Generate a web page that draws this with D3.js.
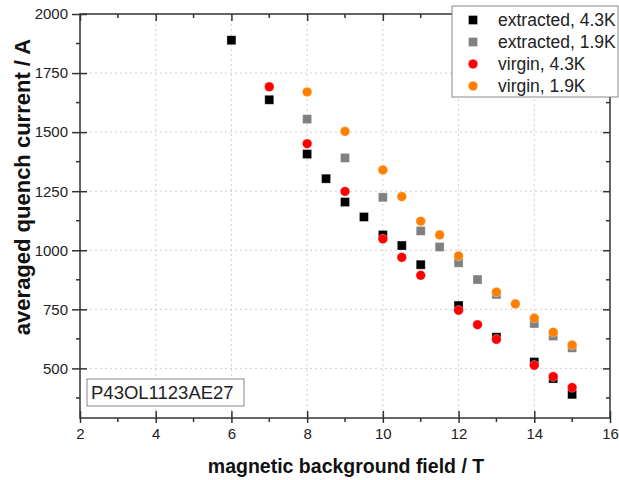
<!DOCTYPE html>
<html>
<head>
<meta charset="utf-8">
<script src="https://cdn.jsdelivr.net/npm/d3@7"></script>
<style>
  html, body { margin: 0; padding: 0; background: #fff; }
  svg { display: block; font-family: "Liberation Sans", Arial, sans-serif; }
</style>
</head>
<body>
<svg id="chart" width="619" height="480"></svg>
<script>
// ---- data ----
const extracted43K_field = [6, 7, 8, 8.5, 9, 9.5, 10, 10.5, 11, 12, 13, 14, 14.5, 15];
const extracted43K_current = [1889, 1637, 1407, 1303, 1204, 1141, 1065, 1020, 939, 766, 632, 527, 457, 390];

const extracted19K_field = [8, 9, 10, 11, 11.5, 12, 12.5, 13, 14, 14.5, 15];
const extracted19K_current = [1555, 1391, 1224, 1082, 1014, 947, 876, 813, 690, 637, 587];

const virgin43K_field = [7, 8, 9, 10, 10.5, 11, 12, 12.5, 13, 14, 14.5, 15];
const virgin43K_current = [1692, 1451, 1249, 1048, 970, 894, 746, 685, 623, 513, 465, 419];

const virgin19K_field = [8, 9, 10, 10.5, 11, 11.5, 12, 13, 13.5, 14, 14.5, 15];
const virgin19K_current = [1670, 1503, 1340, 1227, 1123, 1065, 976, 823, 773, 713, 653, 599];

const seriesNames = ["extracted, 4.3K", "extracted, 1.9K", "virgin, 4.3K", "virgin, 1.9K"];
const xTicks = [2, 4, 6, 8, 10, 12, 14, 16];
const yTicks = [500, 750, 1000, 1250, 1500, 1750, 2000];
const xDomain = [2, 16];
const yDomain = [290, 2000];
const sampleLabel = "P43OL1123AE27";
const xTitle = "magnetic background field / T";
const yTitle = "averaged quench current / A";

// ---- layout ----
const PL = 80, PR = 610, PT = 14, PB = 418;
const svg = d3.select("#chart");
const xs = d3.scaleLinear().domain(xDomain).range([PL, PR]);
const ys = d3.scaleLinear().domain(yDomain).range([PB, PT]);

const series = [
  { name: seriesNames[0], fx: extracted43K_field, fy: extracted43K_current, shape: "square", color: "#000000" },
  { name: seriesNames[1], fx: extracted19K_field, fy: extracted19K_current, shape: "square", color: "#808080" },
  { name: seriesNames[2], fx: virgin43K_field, fy: virgin43K_current, shape: "circle", color: "#ff0000" },
  { name: seriesNames[3], fx: virgin19K_field, fy: virgin19K_current, shape: "circle", color: "#ff8000" }
];

// grid
const grid = svg.append("g").attr("stroke", "#cfcfcf").attr("stroke-width", 1).attr("stroke-dasharray", "2,3");
grid.selectAll("line.gx").data(xTicks.filter(d => d > xDomain[0] && d < xDomain[1])).join("line").attr("class", "gx")
  .attr("x1", d => xs(d)).attr("x2", d => xs(d)).attr("y1", PT).attr("y2", PB);
grid.selectAll("line.gy").data(yTicks.filter(d => d < yDomain[1])).join("line").attr("class", "gy")
  .attr("x1", PL).attr("x2", PR).attr("y1", d => ys(d)).attr("y2", d => ys(d));

// axes
const axisColor = "#333";
const minorX = d3.range(3, 16, 2);
const minorY = d3.range(375, 2000, 250);

const axB = d3.axisBottom(xs).tickValues(xTicks).tickSize(5).tickSizeOuter(0).tickPadding(5).tickFormat(d3.format("d"));
const gB = svg.append("g").attr("transform", `translate(0,${PB})`).call(axB);
const axL = d3.axisLeft(ys).tickValues(yTicks).tickSizeOuter(0).tickSize(8).tickPadding(4).tickFormat(d3.format("d"));
const gL = svg.append("g").attr("transform", `translate(${PL},0)`).call(axL);
const axT = d3.axisTop(xs).tickValues(xTicks).tickSizeOuter(0).tickSize(-7).tickFormat("");
const gT = svg.append("g").attr("transform", `translate(0,${PT})`).call(axT);
const axR = d3.axisRight(ys).tickValues(yTicks).tickSizeOuter(0).tickSize(-7).tickFormat("");
const gR = svg.append("g").attr("transform", `translate(${PR},0)`).call(axR);

[gB, gL, gT, gR].forEach(g => {
  g.select(".domain").remove();
  g.selectAll(".tick line").attr("stroke", axisColor).attr("stroke-width", 1.5);
  g.selectAll(".tick text").attr("fill", "#222").style("font-size", "15px").style("font-family", "'Liberation Sans', Arial, sans-serif");
});
gB.selectAll(".tick").append("line").attr("y1", 0).attr("y2", -7).attr("stroke", axisColor).attr("stroke-width", 1.5);
gL.selectAll(".tick").append("line").attr("x1", 0).attr("x2", 7).attr("stroke", axisColor).attr("stroke-width", 1.5);

// minor ticks
svg.append("g").selectAll("line").data(minorX).join("line")
  .attr("x1", d => xs(d)).attr("x2", d => xs(d)).attr("y1", PB).attr("y2", PB + 4)
  .attr("stroke", axisColor).attr("stroke-width", 1.5);
svg.append("g").selectAll("line").data(minorY).join("line")
  .attr("x1", PL - 4).attr("x2", PL).attr("y1", d => ys(d)).attr("y2", d => ys(d))
  .attr("stroke", axisColor).attr("stroke-width", 1.5);
svg.append("g").selectAll("line").data(minorX).join("line")
  .attr("x1", d => xs(d)).attr("x2", d => xs(d)).attr("y1", PT).attr("y2", PT + 4)
  .attr("stroke", axisColor).attr("stroke-width", 1.5);
svg.append("g").selectAll("line").data(minorY).join("line")
  .attr("x1", PR - 4).attr("x2", PR).attr("y1", d => ys(d)).attr("y2", d => ys(d))
  .attr("stroke", axisColor).attr("stroke-width", 1.5);

// frame
svg.append("rect").attr("x", PL).attr("y", PT).attr("width", PR - PL).attr("height", PB - PT)
  .attr("fill", "none").attr("stroke", axisColor).attr("stroke-width", 1.5);

// markers
function drawMarker(g, shape, color, cx, cy) {
  if (shape === "square") {
    g.append("rect").attr("x", cx - 4.5).attr("y", cy - 4.5).attr("width", 9).attr("height", 9)
      .attr("fill", color).attr("stroke", "#fff").attr("stroke-opacity", 0.4).attr("stroke-width", 0.8);
  } else {
    g.append("circle").attr("cx", cx).attr("cy", cy).attr("r", 4.8)
      .attr("fill", color).attr("stroke", "#fff").attr("stroke-opacity", 0.4).attr("stroke-width", 0.8);
  }
}
const pts = svg.append("g");
series.forEach(s => {
  const g = pts.append("g");
  s.fx.forEach((fv, i) => drawMarker(g, s.shape, s.color, xs(fv), ys(s.fy[i])));
});

// legend
const lg = svg.append("g");
lg.append("rect").attr("x", 452).attr("y", 6).attr("width", 166).attr("height", 91)
  .attr("fill", "#fff").attr("stroke", "#888").attr("stroke-width", 1);
series.forEach((s, i) => {
  const cy = 20 + i * 22;
  drawMarker(lg, s.shape, s.color, 473, cy);
  lg.append("text").attr("x", 498).attr("y", cy + 6).attr("fill", "#222")
    .style("font-size", "17.5px").text(s.name);
});

// sample label box
svg.append("rect").attr("x", 87).attr("y", 379).attr("width", 157).attr("height", 27)
  .attr("fill", "#fff").attr("stroke", "#888").attr("stroke-width", 1);
svg.append("text").attr("x", 91).attr("y", 399).attr("fill", "#222").style("font-size", "18.5px").text(sampleLabel);

// titles
svg.append("text").attr("x", 346).attr("y", 473).attr("text-anchor", "middle")
  .style("font-size", "19.5px").style("font-weight", "bold").attr("fill", "#111").text(xTitle);
svg.append("text").attr("transform", `translate(30,187) rotate(-90)`).attr("text-anchor", "middle")
  .style("font-size", "22px").style("font-weight", "bold").attr("fill", "#111").text(yTitle);
</script>
</body>
</html>
